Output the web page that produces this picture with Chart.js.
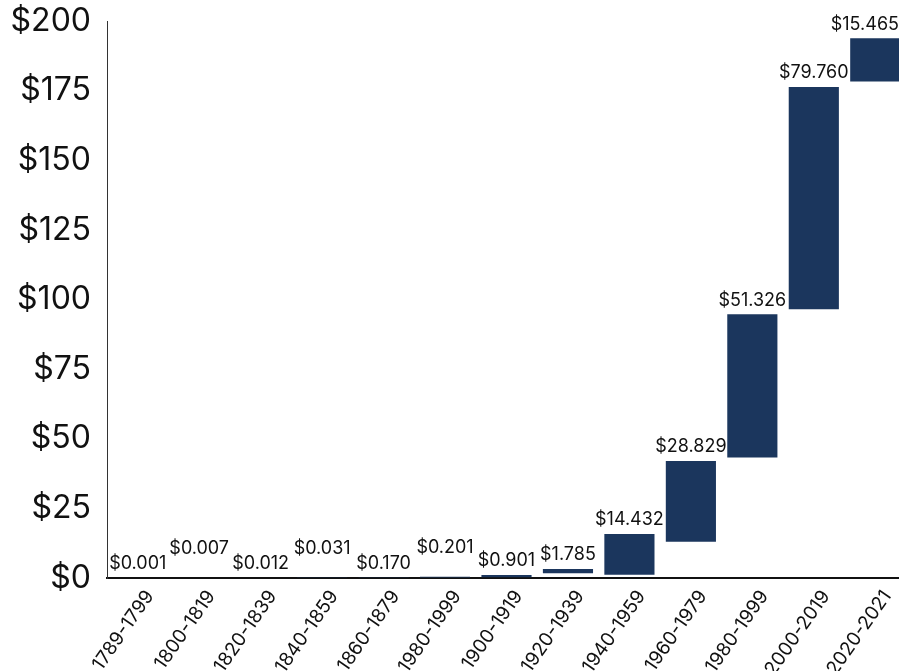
<!DOCTYPE html>
<html>
<head>
<meta charset="utf-8">
<script src="https://cdn.jsdelivr.net/npm/chart.js@4"></script>
<style>
  html, body { margin: 0; padding: 0; background: #fff; overflow: hidden; }
  #wrap { width: 906px; height: 671px; position: relative; }
</style>
</head>
<body>
<div id="wrap"><canvas id="chart"></canvas></div>
<script>
/* ===== DATA ===== */
const periods = ["1789-1799", "1800-1819", "1820-1839", "1840-1859", "1860-1879", "1980-1999",
  "1900-1919", "1920-1939", "1940-1959", "1960-1979", "1980-1999", "2000-2019", "2020-2021"];

// amount added in each period (shown as labels)
const amounts = [0.001, 0.007, 0.012, 0.031, 0.170, 0.201, 0.901, 1.785, 14.432, 28.829, 51.326, 79.760, 15.465];

// floating bar start / end
const barStart = [0, 0.001, 0.008, 0.020, 0.051, 0.221, 0.3, 1.7, 1.2, 13.0, 43.3, 96.5, 178.3];
const barEnd   = [0.001, 0.008, 0.020, 0.051, 0.221, 0.422, 1.1, 3.2, 15.8, 42.0, 94.7, 176.3, 193.8];

const yTicks = [0, 25, 50, 75, 100, 125, 150, 175, 200];

const FONT = "Inter, 'DejaVu Sans', sans-serif";
const NAVY = "#1b365d";

/* ===== VALUE LABELS ===== */
const valueLabels = {
  id: "valueLabels",
  afterDatasetsDraw(chart) {
    const ctx = chart.ctx;
    const meta = chart.getDatasetMeta(0);
    ctx.save();
    ctx.font = "18px " + FONT;
    ctx.fillStyle = "#111";
    ctx.textAlign = "center";
    ctx.textBaseline = "middle";
    meta.data.forEach((bar, i) => {
      const text = "$" + amounts[i].toFixed(3);
      const w = ctx.measureText(text).width;
      let x = bar.x;
      if (x + w / 2 > 899) x = 899 - w / 2;
      let y = Math.min(bar.y, bar.base) - 14;
      if (i < 6 && i % 2 === 1) y -= 15;   // stagger the tiny ones
      ctx.fillText(text, x, y);
    });
    ctx.restore();
  }
};

/* ===== CHART ===== */
new Chart(document.getElementById("chart"), {
  type: "bar",
  data: {
    labels: periods,
    datasets: [{
      data: barStart.map((s, i) => [s, barEnd[i]]),
      backgroundColor: NAVY,
      borderWidth: 0,
      barPercentage: 0.816,
      categoryPercentage: 1
    }]
  },
  options: {
    responsive: true,
    maintainAspectRatio: false,
    animation: false,
    layout: { padding: 0 },
    plugins: {
      legend: { display: false },
      tooltip: { enabled: false }
    },
    scales: {
      x: {
        grid: { display: false, drawTicks: false },
        border: { display: true, color: "#111", width: 2 },
        ticks: {
          color: "#111",
          font: { family: FONT, size: 19 },
          minRotation: 55,
          maxRotation: 55,
          padding: 8,
          labelOffset: 12,
          autoSkip: false
        },
        afterFit(scale) { scale.height = 93; }
      },
      y: {
        min: 0,
        max: 200,
        afterBuildTicks(scale) { scale.ticks = yTicks.map(v => ({ value: v })); },
        grid: { display: false, drawTicks: false },
        border: { display: true, color: "#333", width: 1 },
        ticks: {
          color: "#111",
          font: { family: FONT, size: 32 },
          padding: 16,
          callback: v => "$" + v
        },
        afterFit(scale) {
          scale.width = 107;
          scale.paddingTop = 21;
        }
      }
    }
  },
  plugins: [valueLabels]
});
</script>
</body>
</html>
